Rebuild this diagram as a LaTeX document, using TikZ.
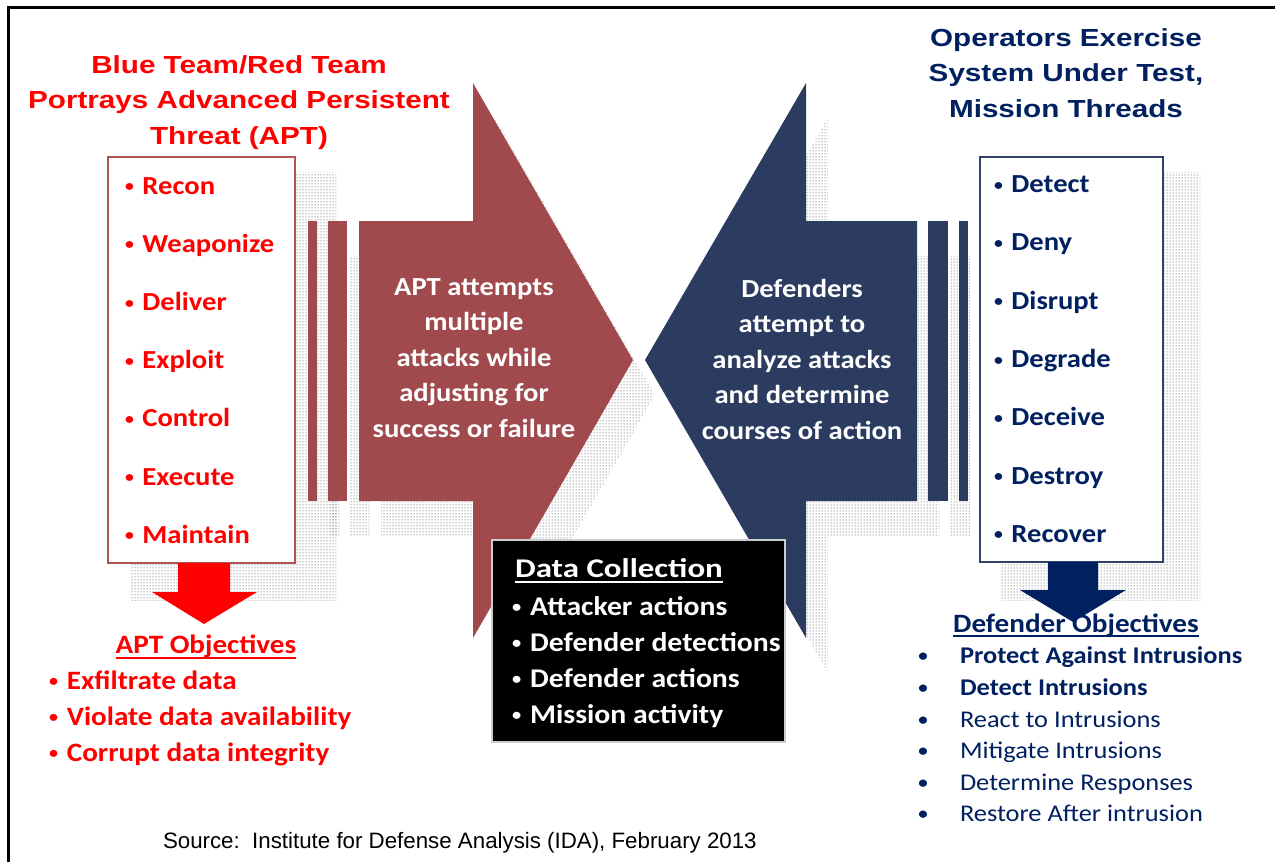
\documentclass[tikz,border=0pt]{standalone}
\usepackage{fontspec}
\usetikzlibrary{patterns}
\newfontfamily\calf[FakeStretch=1.1]{Carlito}
\newfontfamily\calw[FakeStretch=1.22]{Carlito}
\newfontfamily\arf[FakeStretch=1.2]{Liberation Sans}
\newfontfamily\ars{Liberation Sans}
\newcommand\bul{\makebox[0.5em][c]{\raisebox{0.09em}{\scalebox{0.62}{•}}}}
\newcommand\dbul{\makebox[0.5em][c]{\bfseries\raisebox{0.07em}{\scalebox{0.72}{•}}}}
\definecolor{tred}{RGB}{255,0,0}
\definecolor{navy}{RGB}{0,32,96}
\definecolor{redarrow}{RGB}{161,74,78}
\definecolor{bluearrow}{RGB}{44,60,96}
\definecolor{redborder}{RGB}{175,85,85}
\definecolor{blueborder}{RGB}{50,66,102}
\tikzset{
  txt/.style={inner sep=0pt, outer sep=0pt},
  redtitle/.style={txt, anchor=base, text=tred, font=\arf\bfseries\fontsize{24.7}{30}\selectfont},
  navytitle/.style={txt, anchor=base, text=navy, font=\arf\bfseries\fontsize{24.7}{30}\selectfont},
  redlist/.style={txt, anchor=base west, text=tred, font=\calf\bfseries\fontsize{26}{30}\selectfont},
  bluelist/.style={txt, anchor=base west, text=navy, font=\calf\bfseries\fontsize{26}{30}\selectfont},
  arrowtext/.style={txt, anchor=base, text=white, font=\calf\bfseries\fontsize{26}{30}\selectfont},
  dctitle/.style={txt, anchor=base west, text=white, font=\calw\bfseries\fontsize{27}{30}\selectfont},
  dcitem/.style={txt, anchor=base west, text=white, font=\calf\bfseries\fontsize{27}{30}\selectfont},
  aptobj/.style={txt, anchor=base, text=tred, font=\calf\bfseries\fontsize{26.5}{30}\selectfont},
  aptitem/.style={txt, anchor=base west, text=tred, font=\calf\bfseries\fontsize{26.5}{30}\selectfont},
  defobj/.style={txt, anchor=base, text=navy, font=\calf\bfseries\fontsize{26.5}{30}\selectfont},
  defitemb/.style={txt, anchor=base west, text=navy, font=\calf\bfseries\fontsize{24}{30}\selectfont},
  defitem/.style={txt, anchor=base west, text=navy, font=\calf\fontsize{24}{30}\selectfont},
  source/.style={txt, anchor=base west, text=black, font=\ars\fontsize{22.3}{26}\selectfont},
  shadow/.style={pattern=dots, pattern color=black!80},
}
\begin{document}
\begin{tikzpicture}[x=1pt,y=-1pt]
\useasboundingbox (0,0) rectangle (1275,862);
% frame
\draw[line width=3pt] (8,862) -- (8,7) -- (1275,7);

% ---- shadows ----
\fill[shadow] (130,172) rectangle (336,600);
\fill[shadow] (1000,172) rectangle (1200,600);
\begin{scope}[shift={(22,35)}]
  \fill[shadow] (359,221) -- (473,221) -- (473,83) -- (633,360) -- (473,638) -- (473,501) -- (359,501) -- cycle;
  \fill[shadow] (308,221) rectangle (317,501);
  \fill[shadow] (328,221) rectangle (347,501);
  \fill[shadow] (917,221) -- (806,221) -- (806,83) -- (645,360) -- (806,638) -- (806,501) -- (917,501) -- cycle;
  \fill[shadow] (928,221) rectangle (948,501);
  \fill[shadow] (959,221) rectangle (968,501);
\end{scope}

% ---- big arrows ----
\fill[redarrow] (359,221) -- (473,221) -- (473,83) -- (633,360) -- (473,638) -- (473,501) -- (359,501) -- cycle;
\fill[redarrow] (308,221) rectangle (317,501);
\fill[redarrow] (328,221) rectangle (347,501);
\fill[bluearrow] (917,221) -- (806,221) -- (806,83) -- (645,360) -- (806,638) -- (806,501) -- (917,501) -- cycle;
\fill[bluearrow] (928,221) rectangle (948,501);
\fill[bluearrow] (959,221) rectangle (968,501);

% ---- boxes ----
\draw[redborder, line width=2.5pt, fill=white] (108,157) rectangle (295,563);
\draw[blueborder, line width=2.5pt, fill=white] (980,157) rectangle (1163,562);
\draw[gray!40, line width=1.5pt, fill=black] (492,540) rectangle (785,742);

% ---- titles ----
\node[redtitle] (rt1) at (239,73) {Blue Team/Red Team};
\node[redtitle] (rt2) at (239,108.5) {Portrays Advanced Persistent};
\node[redtitle] (rt3) at (239,144) {Threat (APT)};
\node[navytitle] (bt1) at (1066,46) {Operators Exercise};
\node[navytitle] (bt2) at (1066,81.5) {System Under Test,};
\node[navytitle] (bt3) at (1066,117) {Mission Threads};

% ---- lists in boxes ----
\node[redlist] (r1) at (123,194) {\bul\ Recon};
\node[redlist] (r2) at (123,252.2) {\bul\ Weaponize};
\node[redlist] (r3) at (123,310.4) {\bul\ Deliver};
\node[redlist] (r4) at (123,368.6) {\bul\ Exploit};
\node[redlist] (r5) at (123,426.8) {\bul\ Control};
\node[redlist] (r6) at (123,485) {\bul\ Execute};
\node[redlist] (r7) at (123,543.2) {\bul\ Maintain};

\node[bluelist] (b1) at (992,192.5) {\bul\ Detect};
\node[bluelist] (b2) at (992,250.8) {\bul\ Deny};
\node[bluelist] (b3) at (992,309.1) {\bul\ Disrupt};
\node[bluelist] (b4) at (992,367.4) {\bul\ Degrade};
\node[bluelist] (b5) at (992,425.7) {\bul\ Deceive};
\node[bluelist] (b6) at (992,484) {\bul\ Destroy};
\node[bluelist] (b7) at (992,542.3) {\bul\ Recover};

% ---- arrow texts ----
\node[arrowtext] (ra1) at (474,295) {APT attempts};
\node[arrowtext] (ra2) at (474,330.6) {multiple};
\node[arrowtext] (ra3) at (474,366.2) {attacks while};
\node[arrowtext] (ra4) at (474,401.8) {adjusting for};
\node[arrowtext] (ra5) at (474,437.4) {success or failure};

\node[arrowtext] (ba1) at (802,297) {Defenders};
\node[arrowtext] (ba2) at (802,332.5) {attempt to};
\node[arrowtext] (ba3) at (802,368) {analyze attacks};
\node[arrowtext] (ba4) at (802,403.5) {and determine};
\node[arrowtext] (ba5) at (802,439) {courses of action};

% ---- data collection ----
\node[dctitle] (dct) at (515,577) {Data Collection};
\draw[white, line width=2pt] ([yshift=-5pt]dct.base west) -- ([yshift=-5pt]dct.base east);
\node[dcitem] (dc1) at (510,615) {\bul\ Attacker actions};
\node[dcitem] (dc2) at (510,651) {\bul\ Defender detections};
\node[dcitem] (dc3) at (510,687) {\bul\ Defender actions};
\node[dcitem] (dc4) at (510,723) {\bul\ Mission activity};

% ---- APT objectives ----
\fill[tred] (178,563) -- (230,563) -- (230,592) -- (257,592) -- (204,624) -- (152,592) -- (178,592) -- cycle;
\node[aptobj] (ao) at (206,653) {APT Objectives};
\draw[tred, line width=2pt] ([yshift=-5pt]ao.base west) -- ([yshift=-5pt]ao.base east);
\node[aptitem] (ao1) at (47,689) {\bul\ Exfiltrate data};
\node[aptitem] (ao2) at (47,725) {\bul\ Violate data availability};
\node[aptitem] (ao3) at (47,761) {\bul\ Corrupt data integrity};

% ---- Defender objectives ----
\node[defobj] (do) at (1076,632) {Defender Objectives};
\draw[navy, line width=2pt] ([yshift=-4pt]do.base west) -- ([yshift=-4pt]do.base east);
\fill[navy] (1048,562) -- (1098,562) -- (1098,590) -- (1126,590) -- (1073,622) -- (1020,590) -- (1048,590) -- cycle;
\node[defitemb] (do1) at (960,663) {\llap{\dbul\hspace{31pt}}Protect Against Intrusions};
\node[defitemb] (do2) at (960,695) {\llap{\dbul\hspace{31pt}}Detect Intrusions};
\node[defitem] (do3) at (960,727) {\llap{\dbul\hspace{31pt}}React to Intrusions};
\node[defitem] (do4) at (960,758) {\llap{\dbul\hspace{31pt}}Mitigate Intrusions};
\node[defitem] (do5) at (960,790) {\llap{\dbul\hspace{31pt}}Determine Responses};
\node[defitem] (do6) at (960,821) {\llap{\dbul\hspace{31pt}}Restore After intrusion};

% ---- source ----
\node[source] (src) at (163,848) {Source:\ \ Institute for Defense Analysis (IDA), February 2013};
\end{tikzpicture}
\end{document}
